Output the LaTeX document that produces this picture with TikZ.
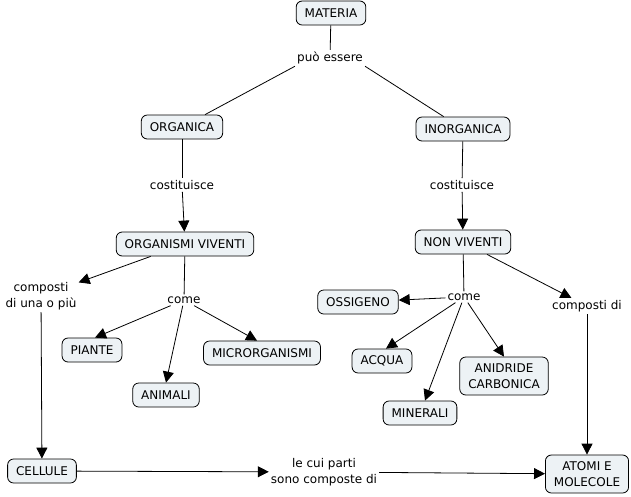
\documentclass[tikz,border=0pt]{standalone}
\usepackage{fontspec}
\setmainfont{DejaVu Sans}
\usetikzlibrary{arrows.meta}
\definecolor{boxfill}{RGB}{237,242,245}
\tikzset{
  concept/.style={draw=black, fill=boxfill, rounded corners=6pt, line width=0.8pt,
    inner xsep=8.5pt, inner ysep=4pt, minimum height=24pt, align=center,
    font=\fontsize{12}{16}\selectfont},
  twoline/.style={inner ysep=3pt, minimum height=38pt},
  lbl/.style={inner sep=2pt, align=center, fill=white, font=\fontsize{12}{16}\selectfont},
  conn/.style={draw=black, line width=0.8pt},
  arr/.style={conn, -{Triangle[length=11pt,width=11pt]}}
}
\begin{document}
\begin{tikzpicture}[x=1pt,y=-1pt]
\useasboundingbox[fill=white] (0,0) rectangle (631,496);
% concepts
\node[concept] (mat) at (331,13) {MATERIA};
\node[concept] (org) at (182,127) {ORGANICA};
\node[concept] (inorg) at (463,129) {INORGANICA};
\node[concept] (ov) at (185,244) {ORGANISMI VIVENTI};
\node[concept] (nv) at (463,242) {NON VIVENTI};
\node[concept] (pia) at (92,350) {PIANTE};
\node[concept] (ani) at (166,395) {ANIMALI};
\node[concept] (mic) at (262,353) {MICRORGANISMI};
\node[concept] (oss) at (358,302) {OSSIGENO};
\node[concept] (acq) at (382,361) {ACQUA};
\node[concept] (min) at (420,413) {MINERALI};
\node[concept, twoline] (anid) at (504,376) {ANIDRIDE\\CARBONICA};
\node[concept] (cel) at (42,471) {CELLULE};
\node[concept, twoline] (atom) at (587,474) {ATOMI E\\MOLECOLE};
% labels
\node[lbl] (puo) at (330,58) {può essere};
\node[lbl] (cost1) at (182,185) {costituisce};
\node[lbl] (cost2) at (462,185) {costituisce};
\node[lbl] (comp1) at (41,296) {composti\\di una o più};
\node[lbl] (come1) at (184,300) {come};
\node[lbl] (come2) at (464,297) {come};
\node[lbl] (comp2) at (587,306) {composti di};
\node[lbl] (lecui) at (324,472) {le cui parti\\sono composte di};
% connectors
\draw[conn] (mat) -- (puo);
\draw[conn] (puo.south west) -- (org);
\draw[conn] (puo.south east) -- (inorg);
\draw[conn] (org) -- (cost1);
\draw[arr] (cost1) -- (ov);
\draw[conn] (inorg) -- (cost2);
\draw[arr] (cost2) -- (nv);
\draw[arr] (ov) -- (comp1);
\draw[conn] (ov) -- (come1);
\draw[arr] (come1) -- ([xshift=3pt]pia.north);
\draw[arr] (come1) -- (ani.north);
\draw[arr] (come1) -- ([xshift=-5pt]mic.north);
\draw[arr] (comp1) -- (cel);
\draw[arr] (cel) -- (lecui);
\draw[arr] (lecui) -- (atom);
\draw[conn] (nv) -- (come2);
\draw[arr] (come2) -- (oss);
\draw[arr] (come2) -- ([xshift=4pt]acq.north);
\draw[arr] (come2) -- ([xshift=5pt]min.north);
\draw[arr] (come2) -- (anid.north);
\draw[arr] (nv) -- (comp2);
\draw[arr] (comp2) -- (atom);
\end{tikzpicture}
\end{document}
